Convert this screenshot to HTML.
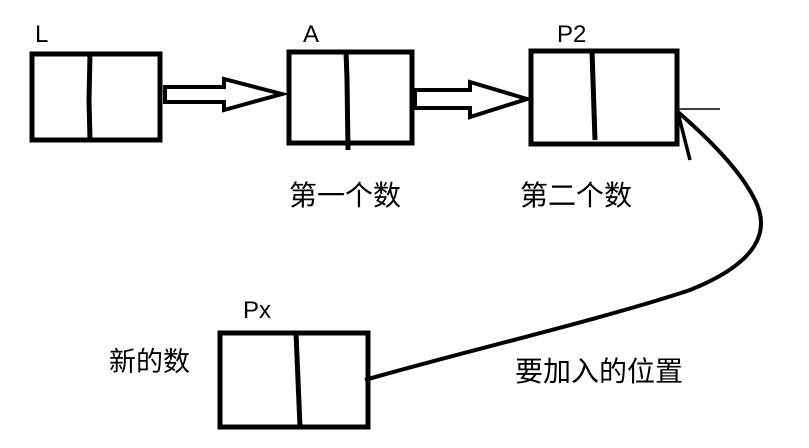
<!DOCTYPE html>
<html><head><meta charset="utf-8"><style>
html,body{margin:0;padding:0;background:#fff;}
svg{display:block}
text{font-family:"Liberation Sans","Noto Sans CJK SC",sans-serif;fill:#000}
</style></head><body>
<svg width="809" height="448" viewBox="0 0 809 448">
<g fill="none" stroke="#000" stroke-width="5" stroke-linejoin="miter">
<rect x="32" y="54" width="128" height="86"/>
<path d="M90 54 L89 100 L90 140"/>
<rect x="289" y="52" width="123" height="91"/>
<path d="M346 52 L347 78 L348 150"/>
<rect x="531" y="51" width="146" height="93"/>
<path d="M592 51 L595 140"/>
<rect x="220" y="333" width="148" height="94"/>
<path d="M296 333 L300 427"/>
<path d="M165 87 L224 87 L224 79 L282 94 L224 110 L224 102 L165 102 Z" stroke-width="4"/>
<path d="M415 90 L470 90 L470 82 L527 99 L470 117 L470 108 L415 108 Z" stroke-width="4"/>
<path d="M365 380 C 450 355, 600 320, 690 290 C 760 262, 770 230, 755 200 C 740 170, 710 140, 678 112" stroke-width="4"/>
<path d="M678 113 L690 160" stroke-width="3.5"/>
</g>
<path d="M678 109 L720 109" stroke="#000" stroke-width="1.5"/>
<g font-size="24">
<text x="35" y="42">L</text>
<text x="303" y="42">A</text>
<text x="557" y="42">P2</text>
<text x="243" y="318">Px</text>
</g>
<g font-size="28">
<text x="289" y="205">第一个数</text>
<text x="520" y="205">第二个数</text>
<text x="515" y="381">要加入的位置</text>
</g>
<text x="109" y="371" font-size="27">新的数</text>
</svg>
</body></html>
